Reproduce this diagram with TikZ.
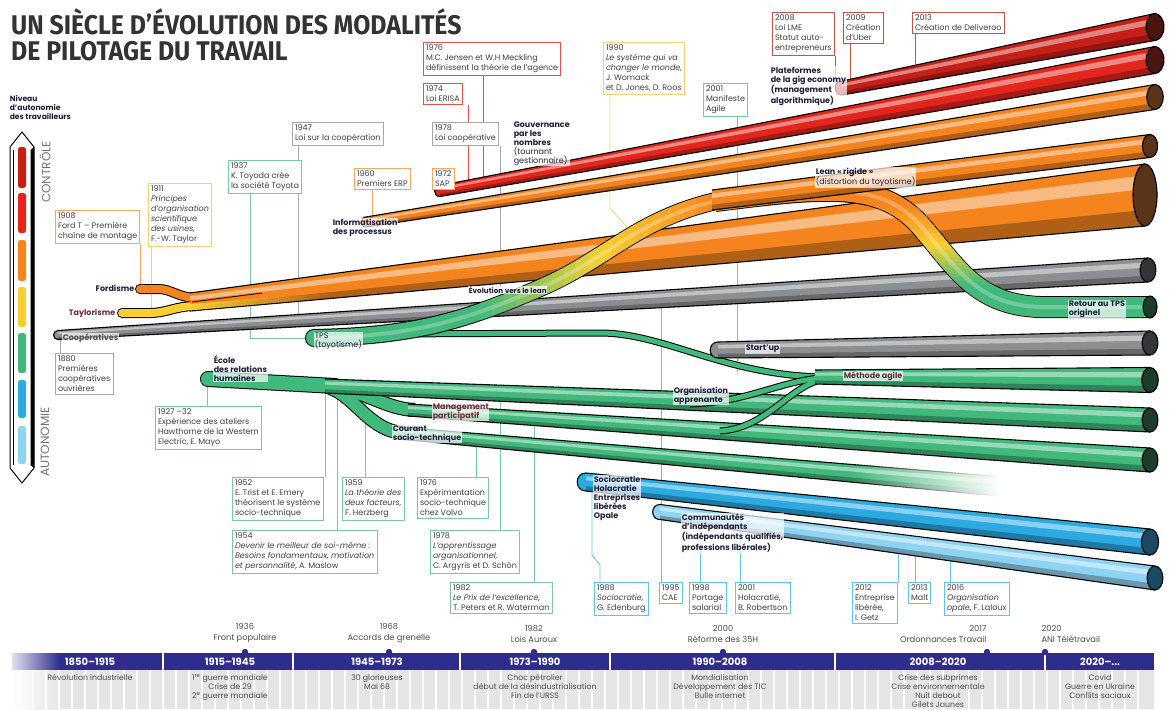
\documentclass[tikz,border=0pt]{standalone}
\usepackage{fontspec}
\usepackage{graphicx}
\setmainfont{Poppins}
\newfontfamily\titlefont{Fira Sans}
\usetikzlibrary{calc,fadings}

\definecolor{tred}{HTML}{E2261C}
\definecolor{tdred}{HTML}{C61F17}
\definecolor{torange}{HTML}{F5841F}
\definecolor{tyellow}{HTML}{F6D031}
\definecolor{tgreen}{HTML}{41B97C}
\definecolor{tgray}{HTML}{8C8F92}
\definecolor{tblue}{HTML}{2BAAE2}
\definecolor{tlblue}{HTML}{8FD3F2}
\definecolor{capred}{HTML}{4A1510}
\definecolor{caporange}{HTML}{5A3418}
\definecolor{capgray}{HTML}{333638}
\definecolor{capgreen}{HTML}{1C3D2C}
\definecolor{capblue}{HTML}{1A4A63}
\definecolor{band}{HTML}{2F2C8E}
\definecolor{ink}{HTML}{1F1F3D}
\definecolor{maroon}{HTML}{6B2B3A}
\definecolor{lorange}{HTML}{F2A765}
\definecolor{lyellow}{HTML}{F3D46E}
\definecolor{lgreen}{HTML}{7CC9A0}
\definecolor{lgray}{HTML}{A8A8A8}
\definecolor{lred}{HTML}{E8504A}
\definecolor{ldred}{HTML}{C4524C}
\definecolor{lblue}{HTML}{62C4EA}

\pgfdeclarelayer{bg}
\pgfdeclarelayer{back}
\pgfsetlayers{bg,back,main}

\tikzfading[name=fadeout, left color=transparent!0, right color=transparent!100]
\tikzfading[name=fadein, left color=transparent!100, right color=transparent!0]

\newcommand{\evfont}{\fontsize{8}{10}\selectfont}
\newcommand{\lblfont}{\bfseries\fontsize{8}{9}\selectfont}

\newif\ifopenend
% color, x0, y0, h0, x1, y1, h1, cap color
\newcommand{\tube}[8]{%
  \coordinate (tl) at (#2,{#3-#4/2});
  \coordinate (bl) at (#2,{#3+#4/2});
  \coordinate (tr) at (#5,{#6-#7/2});
  \coordinate (br) at (#5,{#6+#7/2});
  \fill[#1] (tl) -- (tr) -- (br) -- (bl) -- cycle;
  \fill[#1!55!white] ($(tl)!0.18!(bl)$) -- ($(tr)!0.18!(br)$) -- ($(tr)!0.4!(br)$) -- ($(tl)!0.4!(bl)$) -- cycle;
  \fill[#1!72!black] ($(tl)!0.74!(bl)$) -- ($(tr)!0.74!(br)$) -- (br) -- (bl) -- cycle;
  \draw[line width=1.1pt] (tl) -- (tr) (bl) -- (br);
  \ifopenend\else
    \filldraw[fill=#1, line width=1.1pt] (bl) .. controls +({-#4*0.65},0) and +({-#4*0.65},0) .. (tl);
  \fi
  \filldraw[fill=#8, line width=1.1pt] (#5,#6) ellipse [x radius={min(#7*0.33,12)}, y radius={#7/2}];
}

\tikzset{
  evt/.style={draw=#1, line width=0.8pt, fill=white, inner sep=2.6pt, align=left, anchor=north west, font=\evfont, text=black!75},
  lead/.style={draw=#1, line width=0.8pt},
  lbl/.style={font=\lblfont, text=ink, align=left, inner sep=0.6pt, anchor=north west, fill=white, fill opacity=0.7, text opacity=1},
  era/.style={font=\bfseries\fontsize{10}{10}\selectfont, text=white},
  ctx/.style={font=\fontsize{7.8}{8.9}\selectfont, text=black!70, align=center, anchor=north},
  milestone/.style={font=\fontsize{8.3}{11}\selectfont, text=black!70, align=center, anchor=south},
}

\begin{document}
\begin{tikzpicture}[x=1pt,y=-1pt]
\begin{pgfonlayer}{bg}
  \fill[white] (0,0) rectangle (1169,709);
\end{pgfonlayer}
\useasboundingbox (0,0) rectangle (1169,709);

\node[anchor=north west, inner sep=0, align=left, font=\titlefont\bfseries\fontsize{27}{26.5}\selectfont, text=black!80] (title) at (11,8)
  {\scalebox{0.92}[1]{UN SIÈCLE D’ÉVOLUTION DES MODALITÉS}\\\scalebox{0.92}[1]{DE PILOTAGE DU TRAVAIL}};

% legende
\node[lbl, font=\bfseries\fontsize{7.6}{9}\selectfont] (niveau) at (9,95) {Niveau\\d’autonomie\\des travailleurs};
\draw[line width=1pt, fill=white] (10,147) -- (22,132) -- (34,147) -- (34,468) -- (22,483) -- (10,468) -- cycle;
\fill (30.5,150) -- (34,147) -- (34,468) -- (30.5,465) -- cycle;
\draw[line width=0.5pt] (13.5,150) -- (13.5,465);
\foreach \c/\a/\b in {tdred/147/188, tred/193/233, torange/240/281, tyellow/287/327, tgreen/333/373, tblue/380/418, tlblue/426/464}
  \fill[\c, rounded corners=2.5] (18,\a) rectangle (26,\b);
\node[rotate=90, font=\fontsize{12}{12}\selectfont, text=black!55] (ctrl) at (45,172) {CONTRÔLE};
\node[rotate=90, font=\fontsize{12}{12}\selectfont, text=black!55] (auto) at (45,442) {AUTONOMIE};

% tubes du haut
\tube{tdred}{842}{88}{14}{1155}{27}{27}{capred}
\tube{tred}{440}{191}{11}{1155}{60}{27}{capred}
\tube{torange}{366}{222}{10}{1155}{97}{25}{caporange}

\draw[line width=10, line cap=round] (140,289) -- (158,289) .. controls (172,289) and (176,297) .. (196,298);
\draw[line width=10, line cap=round] (122,313) -- (150,313) .. controls (166,313) and (176,306) .. (196,306);
\draw[line width=8, line cap=round, torange] (140,289) -- (158,289) .. controls (172,289) and (176,297) .. (196,298);
\draw[line width=8, line cap=round, tyellow] (122,313) -- (150,313) .. controls (166,313) and (176,306) .. (196,306);
\openendtrue
\tube{torange}{190}{302}{18}{1145}{195}{62}{caporange}
\openendfalse
\fill[tyellow, path fading=fadeout] (190,304) -- (330,293) -- (330,298) -- (190,310.4) -- cycle;
\draw[line width=0.8pt] (192,302) -- (262,293);

\tube{tgray}{58}{335}{9}{1148}{270}{24}{capgray}

% lean rigide -> retour au TPS
\def\leanpath{(715,201) .. controls (820,188) and (880,180) .. (920,225) .. controls (955,265) and (975,305) .. (1040,307) -- (1150,307)}
\draw[line width=22] \leanpath;
\draw[line width=20, torange] \leanpath;
\foreach \i in {0,...,9}{
  \pgfmathtruncatemacro{\p}{10*\i+5}
  \begin{scope}
    \clip (700,{205+4*\i}) rectangle (1160,{209.6+4*\i});
    \draw[line width=20, tyellow!\p!torange] \leanpath;
  \end{scope}
  \begin{scope}
    \clip (700,{245+4*\i}) rectangle (1160,{249.6+4*\i});
    \draw[line width=20, tgreen!\p!tyellow] \leanpath;
  \end{scope}
}
\begin{scope}
  \clip (700,285) rectangle (1160,330);
  \draw[line width=20, tgreen] \leanpath;
\end{scope}
\draw[line width=4, white, opacity=0.25] \leanpath;
\filldraw[fill=capgreen, line width=1.1pt] (1150,307) ellipse [x radius=7, y radius=11];

% TPS
\draw[line width=7] (380,334) -- (600,333) .. controls (665,333) and (725,376) .. (825,377);
\draw[line width=5, tgreen] (380,334) -- (600,333) .. controls (665,333) and (725,376) .. (825,377);
\def\evopath{(314,338) .. controls (420,336) and (470,318) .. (540,288) .. controls (610,258) and (640,215) .. (730,198)}
\draw[line width=18, line cap=round] \evopath;
\draw[line width=16, line cap=round, tgreen] \evopath;
\foreach \i in {0,...,9}{
  \pgfmathtruncatemacro{\p}{10*\i+5}
  \begin{scope}
    \clip ({480+12*\i},150) rectangle ({492.6+12*\i},360);
    \draw[line width=16, tyellow!\p!tgreen] \evopath;
  \end{scope}
  \begin{scope}
    \clip ({600+12*\i},150) rectangle ({612.6+12*\i},360);
    \draw[line width=16, torange!\p!tyellow] \evopath;
  \end{scope}
}
\begin{scope}
  \clip (720,150) rectangle (760,360);
  \draw[line width=16, line cap=round, torange] \evopath;
\end{scope}
\draw[line width=4, white, opacity=0.25] \evopath;

\openendtrue
\tube{torange}{712}{200}{20}{1150}{146}{23}{caporange}
\openendfalse

\tube{tgray}{718}{350}{16}{1150}{343}{24}{capgray}

% ecole des relations humaines
\draw[line width=16, line cap=round] (208,379) -- (335,386);
\draw[line width=14] (330,387) .. controls (365,390) and (385,409) .. (415,410);
\draw[line width=14] (330,388) .. controls (355,396) and (370,432) .. (405,433);
\draw[line width=14, line cap=round, tgreen] (208,379) -- (335,386);
\draw[line width=12, tgreen] (330,387) .. controls (365,390) and (385,409) .. (415,410);
\draw[line width=12, tgreen] (330,388) .. controls (355,396) and (370,432) .. (405,433);
\openendtrue
\tube{tgreen}{398}{433}{12}{1040}{490}{20}{capgreen}
\tube{tgreen}{408}{410}{12}{1150}{460}{24}{capgreen}
\tube{tgreen}{325}{386}{14}{1150}{420}{24}{capgreen}
\openendfalse
\fill[white, path fading=fadein] (850,466) rectangle (1000,503);
\fill[white] (999,466) rectangle (1065,503);

\draw[line width=7] (690,404) .. controls (750,402) and (780,380) .. (830,377);
\draw[line width=7] (720,431) .. controls (770,428) and (790,382) .. (830,378);
\draw[line width=5, tgreen] (690,404) .. controls (750,402) and (780,380) .. (830,377);
\draw[line width=5, tgreen] (720,431) .. controls (770,428) and (790,382) .. (830,378);
\openendtrue
\tube{tgreen}{815}{377}{14}{1150}{380}{25}{capgreen}
\openendfalse

\tube{tblue}{586}{482}{18}{1150}{542}{26}{capblue}
\tube{tlblue}{660}{512}{15}{1155}{578}{24}{capblue}

% libelles
\node[lbl, anchor=east] (lford) at (135,288) {Fordisme};
\node[lbl, anchor=east, text=maroon] (ltaylor) at (116,313) {Taylorisme};
\node[lbl, anchor=west, text=black!70] (lcoop) at (62,338) {Coopératives};
\node[lbl] (linfo) at (332,218) {Informatisation\\des processus};
\node[lbl, font=\fontsize{8}{9}\selectfont] (ltps) at (314,332) {TPS\\(toyotisme)};
\node[lbl, anchor=west, font=\bfseries\fontsize{7.2}{8}\selectfont] (levo) at (468,290) {Évolution vers le lean};
\node[lbl] (llean) at (815,167) {Lean « rigide »\\\mdseries(distortion du toyotisme)};
\node[lbl] (lgouv) at (513,121) {Gouvernance\\par les\\nombres\\\mdseries(tournant\\\mdseries gestionnaire)};
\node[lbl] (lgig) at (770,66) {Plateformes\\de la gig economy\\(management\\algorithmique)};
\node[lbl] (lretour) at (1068,300) {Retour au TPS\\originel};
\node[lbl, anchor=west] (lstart) at (745,349) {Start’up};
\node[lbl] (lecole) at (213,355) {École\\des relations\\humaines};
\node[lbl] (lorga) at (673,386) {Organisation\\apprenante};
\node[lbl, text=maroon] (lmanag) at (432,403) {Management\\participatif};
\node[lbl] (lcourant) at (392,425) {Courant\\socio-technique};
\node[lbl, anchor=west, text=maroon] (lagile) at (843,376) {Méthode agile};
\node[lbl] (lsocio) at (593,475) {Sociocratie\\Holacratie\\Entreprises\\libérées\\Opale};
\node[lbl] (lcommu) at (681,513) {Communautés\\d’indépendants\\(indépendants qualifiés,\\professions libérales)};

% evenements
\node[evt=lorange] (b1908) at (55,210) {1908\\Ford T – Première\\chaîne de montage};
\node[evt=lyellow] (b1911) at (148,183) {1911\\\textit{Principes}\\\textit{d’organisation}\\\textit{scientifique}\\\textit{des usines,}\\F.-W. Taylor};
\node[evt=lgreen] (b1937) at (228,160) {1937\\K. Toyoda crée\\la société Toyota};
\node[evt=lgray] (b1947) at (292,122) {1947\\Loi sur la coopération};
\node[evt=lorange] (b1960) at (354,168) {1960\\Premiers ERP};
\node[evt=lorange] (b1972) at (432,168) {1972\\SAP};
\node[evt=lred] (b1974) at (423,83) {1974\\Loi ERISA};
\node[evt=lred] (b1976a) at (423,42) {1976\\M.C. Jensen et W.H Meckling\\définissent la théorie de l’agence};
\node[evt=lgray] (b1978a) at (432,122) {1978\\Loi coopérative};
\node[evt=lyellow] (b1990) at (603,42) {1990\\\textit{Le système qui va}\\\textit{changer le monde,}\\J. Womack\\et D. Jones, D. Roos};
\node[evt=lgreen] (b2001a) at (703,83) {2001\\Manifeste\\Agile};
\node[evt=ldred] (b2008) at (772,12) {2008\\Loi LME\\Statut auto-\\entrepreneurs};
\node[evt=ldred] (b2009) at (843,12) {2009\\Création\\d’Uber};
\node[evt=ldred] (b2013a) at (912,12) {2013\\Création de Deliveroo};
\node[evt=lgray] (b1880) at (55,353) {1880\\Premières\\coopératives\\ouvrières};
\node[evt=lgreen] (b1927) at (155,406) {1927 –32\\Expérience des ateliers\\Hawthorne de la Western\\Electric, E. Mayo};
\node[evt=lgreen] (b1952) at (232,477) {1952\\E. Trist et E. Emery\\théorisent le système\\socio-technique};
\node[evt=lgreen] (b1959) at (342,477) {1959\\\textit{La théorie des}\\\textit{deux facteurs,}\\F. Herzberg};
\node[evt=lgreen] (b1954) at (232,530) {1954\\\textit{Devenir le meilleur de soi-même :}\\\textit{Besoins fondamentaux, motivation}\\\textit{et personnalité}, A. Maslow};
\node[evt=lgreen] (b1976b) at (417,477) {1976\\Expérimentation\\socio-technique\\chez Volvo};
\node[evt=lgreen] (b1978b) at (430,530) {1978\\\textit{L’apprentissage}\\\textit{organisationnel,}\\C. Argyris et D. Schön};
\node[evt=lgreen] (b1982) at (450,582) {1982\\\textit{Le Prix de l’excellence,}\\T. Peters et R. Waterman};
\node[evt=lblue] (b1988) at (594,582) {1988\\\textit{Sociocratie,}\\G. Edenburg};
\node[evt=lblue] (b1995) at (659,582) {1995\\CAE};
\node[evt=lblue] (b1998) at (689,582) {1998\\Portage\\salarial};
\node[evt=lblue] (b2001b) at (735,582) {2001\\Holacratie,\\B. Robertson};
\node[evt=lblue] (b2012) at (852,582) {2012\\Entreprise\\libérée,\\I. Getz};
\node[evt=lblue] (b2013b) at (908,582) {2013\\Malt};
\node[evt=lblue] (b2016) at (944,582) {2016\\\textit{Organisation}\\\textit{opale}, F. Laloux};

% points d'attache
\coordinate (t1908) at (140,288);
\coordinate (t1911) at (151,311);
\coordinate (tTPS) at (312,338);
\coordinate (t1947) at (298,318);
\coordinate (t1960) at (372,222);
\coordinate (t1974) at (468,184);
\coordinate (t1976a) at (483,180);
\coordinate (t1978a) at (500,308);
\coordinate (t1990) at (627,227);
\coordinate (t2001a) at (737,372);
\coordinate (t2008) at (835,84);
\coordinate (t2009) at (850,86);
\coordinate (t2013a) at (915,70);
\coordinate (t1880) at (60,337);
\coordinate (t1927) at (207,383);
\coordinate (t1952) at (325,388);
\coordinate (t1954) at (337,390);
\coordinate (t1959) at (365,395);
\coordinate (t1976b) at (476,440);
\coordinate (t1978b) at (500,397);
\coordinate (t1982) at (534,415);
\coordinate (t1988) at (592,490);
\coordinate (t1995) at (661,304);
\coordinate (t1998) at (700,522);
\coordinate (t2001b) at (740,528);
\coordinate (t2012) at (898,550);
\coordinate (t2013b) at (915,552);
\coordinate (t2016) at (950,557);

\begin{pgfonlayer}{back}
\draw[lead=lorange] (t1908 |- b1908.south) -- (t1908);
\draw[lead=lyellow] (t1911 |- b1911.south) -- (t1911);
\draw[lead=lgreen] ([xshift=22pt]b1937.south west) |- (tTPS);
\draw[lead=lgray] (t1947 |- b1947.south) -- (t1947);
\draw[lead=lorange] (t1960 |- b1960.south) -- (t1960);
\draw[lead=lred] (t1974 |- b1974.south) -- (t1974);
\draw[lead=lred] (t1976a |- b1976a.south) -- (t1976a);
\draw[lead=lgray] (t1978a |- b1978a.south) -- (t1978a);
\draw[lead=lyellow] ([xshift=7pt]b1990.south west) -- ++(0,113) -- (t1990);
\draw[lead=lgreen] (t2001a |- b2001a.south) -- (t2001a);
\draw[lead=ldred] (t2008 |- b2008.south) -- (t2008);
\draw[lead=ldred] (t2009 |- b2009.south) -- (t2009);
\draw[lead=ldred] (t2013a |- b2013a.south) -- (t2013a);
\draw[lead=lgray] (t1880) -- (t1880 |- b1880.north);
\draw[lead=lgreen] (t1927) -- (t1927 |- b1927.north);
\draw[lead=lgreen] (t1952) -- (t1952 |- b1952.north);
\draw[lead=lgreen] (t1954) -- (t1954 |- b1954.north);
\draw[lead=lgreen] (t1959) -- (t1959 |- b1959.north);
\draw[lead=lgreen] (t1976b) -- (t1976b |- b1976b.north);
\draw[lead=lgreen] (t1978b) -- (t1978b |- b1978b.north);
\draw[lead=lgreen] (t1982) -- (t1982 |- b1982.north);
\draw[lead=lblue] ([xshift=6pt]b1988.north west) -- ++(0,-17) -- ++(-8,-10) -- (t1988);
\draw[lead=lgray] (t1995 |- b1995.north) -- (t1995);
\draw[lead=lblue] (t1998 |- b1998.north) -- (t1998);
\draw[lead=lblue] (t2001b |- b2001b.north) -- (t2001b);
\draw[lead=lblue] (t2012 |- b2012.north) -- (t2012);
\draw[lead=lblue] (t2013b |- b2013b.north) -- (t2013b);
\draw[lead=lblue] (t2016 |- b2016.north) -- (t2016);
\end{pgfonlayer}

% frise
\fill[band] (60,653) rectangle (1154,670);
\shade[left color=band!15, right color=band] (12,653) rectangle (60,670);
\fill[black!10] (60,670) rectangle (1154,709);
\shade[left color=white, right color=black!10] (12,670) rectangle (60,709);
\foreach \x in {20,33,...,1150}
  \draw[white, line width=1.5pt] (\x,670) -- (\x,709);
\foreach \x in {163,293,460,610,835,1045}
  \draw[white, line width=1.2pt] (\x,653) -- (\x,670);

\node[era] (e1) at (90,661.5) {1850–1915};
\node[era] (e2) at (230,661.5) {1915–1945};
\node[era] (e3) at (377,661.5) {1945–1973};
\node[era] (e4) at (535,661.5) {1973–1990};
\node[era] (e5) at (720,661.5) {1990–2008};
\node[era] (e6) at (938,661.5) {2008–2020};
\node[era] (e7) at (1100,661.5) {2020–...};

\node[ctx] (c1) at (90,671) {Révolution industrielle};
\node[ctx] (c2) at (230,671) {1\textsuperscript{re} guerre mondiale\\Crise de 29\\2\textsuperscript{e} guerre mondiale};
\node[ctx] (c3) at (377,671) {30 glorieuses\\Mai 68};
\node[ctx] (c4) at (535,671) {Choc pétrolier\\début de la désindustrialisation\\Fin de l’URSS};
\node[ctx] (c5) at (720,671) {Mondialisation\\Développement des TIC\\Bulle internet};
\node[ctx] (c6) at (938,671) {Crise des subprimes\\Crise environnementale\\Nuit debout\\Gilets Jaunes};
\node[ctx] (c7) at (1100,671) {Covid\\Guerre en Ukraine\\Conflits sociaux};

\node[milestone] (m1936) at (245,646) {1936\\Front populaire};
\node[milestone] (m1968) at (389,646) {1968\\Accords de grenelle};
\node[milestone] (m1982) at (534,646) {1982\\Lois Auroux};
\node[milestone] (m2000) at (723,646) {2000\\Réforme des 35H};
\node[milestone, align=right, anchor=south east] (m2017) at (990,646) {2017\\Ordonnances Travail};
\node[milestone, align=left, anchor=south west] (m2020) at (1038,646) {2020\\ANI Télétravail};
\foreach \x in {245,389,534,723,987,1045}
  \fill[band] (\x,652) circle (3.2);
\end{tikzpicture}
\end{document}
